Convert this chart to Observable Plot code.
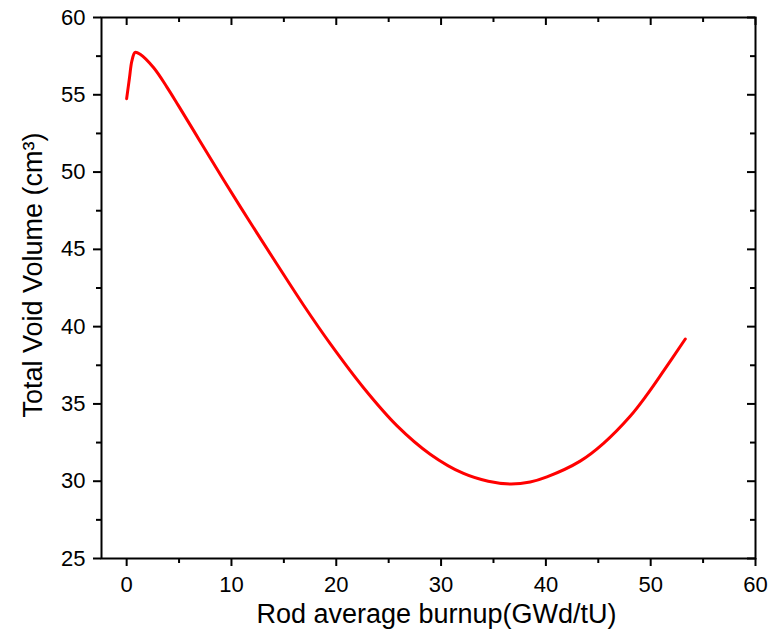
<!DOCTYPE html>
<html>
<head>
<meta charset="utf-8">
<script src="https://cdn.jsdelivr.net/npm/d3@7"></script>
<script src="https://cdn.jsdelivr.net/npm/@observablehq/plot@0.6"></script>
<style>
  html, body { margin: 0; padding: 0; background: #fff; }
  #chart svg { display: block; }
</style>
</head>
<body>
<div id="chart"></div>
<script>
// Data
const burnup = [0, 0.27, 0.5, 0.81, 1.29, 2.56, 3.84, 4.94, 7.0, 9.24, 11.78, 14.33, 16.87, 19.42, 22.6, 25.78, 28.96, 32.14, 34.5, 36.6, 38.5, 40.1, 43.27, 45.5, 48.04, 49.6, 51.2, 53.3];
const voidVolume = [54.75, 56.1, 57.2, 57.75, 57.62, 56.76, 55.5, 54.3, 52.0, 49.5, 46.75, 44.05, 41.4, 38.9, 36.05, 33.6, 31.75, 30.5, 30.0, 29.82, 29.95, 30.28, 31.3, 32.45, 34.2, 35.55, 37.1, 39.2];

const xMajorTicks = [0, 10, 20, 30, 40, 50, 60];
const xMinorTicks = [5, 15, 25, 35, 45, 55];
const yMajorTicks = [25, 30, 35, 40, 45, 50, 55, 60];
const yMinorTicks = [27.5, 32.5, 37.5, 42.5, 47.5, 52.5, 57.5];

const xTitle = "Rod average burnup(GWd/tU)";
const yTitle = "Total Void Volume (cm³)";

const data = burnup.map((b, i) => ({burnup: b, volume: voidVolume[i]}));

const width = 776, height = 633;
const mL = 101, mR = 21, mT = 17, mB = 75;
const W = width - mL - mR, H = height - mT - mB;
const font = "'Liberation Sans', Arial, sans-serif";

const chart = Plot.plot({
  width, height,
  marginLeft: mL, marginRight: mR, marginTop: mT, marginBottom: mB,
  style: {fontFamily: font, background: "#fff", color: "#000"},
  x: {domain: [-2.4, 60]},
  y: {domain: [25, 60]},
  marks: [
    // bottom axis (outward ticks)
    Plot.axisX({ticks: xMajorTicks, tickSize: 8, tickPadding: 10, strokeWidth: 2, fontSize: 22, label: null, tickFormat: d => String(d)}),
    Plot.axisX({ticks: xMinorTicks, tickSize: 5, strokeWidth: 2, text: null, label: null}),
    // left axis (outward ticks)
    Plot.axisY({ticks: yMajorTicks, tickSize: 8, tickPadding: 8, strokeWidth: 2, fontSize: 22, label: null, tickFormat: d => String(d)}),
    Plot.axisY({ticks: yMinorTicks, tickSize: 5, strokeWidth: 2, text: null, label: null}),
    // top mirrored ticks (inward)
    Plot.tickX(xMajorTicks, {x: d => d, insetBottom: H - 8, stroke: "black", strokeWidth: 2}),
    Plot.tickX(xMinorTicks, {x: d => d, insetBottom: H - 5, stroke: "black", strokeWidth: 2}),
    // right mirrored ticks (inward)
    Plot.tickY(yMajorTicks, {y: d => d, insetLeft: W - 8, stroke: "black", strokeWidth: 2}),
    Plot.tickY(yMinorTicks, {y: d => d, insetLeft: W - 5, stroke: "black", strokeWidth: 2}),
    Plot.frame({stroke: "black", strokeWidth: 2}),
    Plot.line(data, {x: "burnup", y: "volume", stroke: "#ff0000", strokeWidth: 3, curve: "catmull-rom"}),
    Plot.text([xTitle], {frameAnchor: "bottom", text: d => d, textAnchor: "middle", lineAnchor: "middle", dx: 8, dy: 56, fontSize: 27, fill: "black"}),
    Plot.text([yTitle], {frameAnchor: "left", text: d => d, rotate: -90, textAnchor: "middle", lineAnchor: "middle", dx: -68, dy: -13, fontSize: 27, fill: "black"})
  ]
});

document.getElementById("chart").appendChild(chart);
</script>
</body>
</html>
